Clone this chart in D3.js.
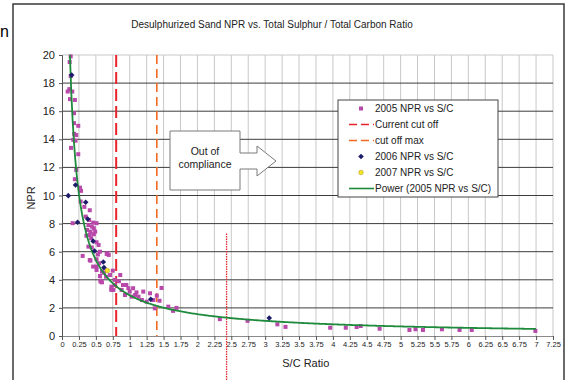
<!DOCTYPE html>
<html>
<head>
<meta charset="utf-8">
<script src="https://cdn.jsdelivr.net/npm/d3@7"></script>
<style>
  body { margin: 0; background: #fff; }
  svg { display: block; font-family: Arial, "Liberation Sans", sans-serif; }
</style>
</head>
<body>
<div id="chart"></div>
<script>
// 2005 NPR vs S/C  [S/C, NPR]
const npr2005 = [
  [0.128, 19.9], [0.113, 19.5], [0.128, 18.5], [0.108, 17.57], [0.084, 17.4], [0.152, 17.4],
  [0.118, 16.86], [0.19, 16.8], [0.177, 15.86], [0.177, 15.15], [0.24, 14.96], [0.18, 14.39],
  [0.21, 14.3], [0.2, 13.9], [0.167, 13.96], [0.133, 13.39], [0.24, 12.94], [0.21, 11.82],
  [0.19, 11.16], [0.265, 10.56], [0.28, 10.33], [0.275, 9.57], [0.33, 9.19], [0.41, 8.95],
  [0.35, 8.5], [0.40, 8.26], [0.46, 8.07], [0.158, 8.03], [0.39, 7.9], [0.44, 7.79],
  [0.37, 7.55], [0.42, 7.43], [0.47, 7.24], [0.36, 7.14], [0.43, 6.96], [0.51, 6.67],
  [0.305, 5.7], [0.42, 5.36], [0.39, 6.36], [0.41, 7.19], [0.49, 7.43], [0.51, 8.03],
  [0.47, 7.67], [0.54, 6.48], [0.56, 6.0], [0.51, 5.46], [0.55, 5.18], [0.46, 4.94],
  [0.51, 4.7], [0.59, 4.58], [0.56, 4.27], [0.57, 3.94], [0.67, 5.89], [0.75, 4.65],
  [0.71, 4.34], [0.65, 4.22], [0.73, 3.28], [0.78, 3.99], [0.78, 3.63], [0.86, 4.34],
  [0.9, 3.63], [0.88, 3.28], [0.95, 3.63], [0.98, 3.4], [0.93, 2.92], [1.0, 3.16],
  [1.05, 3.4], [1.08, 2.92], [1.03, 2.8], [1.13, 2.8], [1.18, 2.56], [1.25, 2.44],
  [1.2, 3.16], [1.3, 3.04], [1.35, 2.56], [1.37, 1.97], [1.4, 2.87], [1.44, 2.51],
  [1.47, 3.42], [1.57, 2.09], [1.64, 1.79], [1.69, 2.0], [0.41, 5.41], [0.51, 4.94],
  [0.57, 3.87], [0.73, 3.51], [0.76, 3.28], [0.69, 5.77], [0.66, 5.84], [0.59, 3.82],
  [0.73, 3.33], [0.62, 4.5], [0.53, 5.8], [0.44, 6.3], [0.84, 3.9], [1.1, 3.1],
  [2.33, 1.2], [2.74, 1.08], [3.18, 0.83], [3.3, 0.65], [3.96, 0.59], [4.19, 0.59],
  [4.35, 0.64], [4.41, 0.71], [4.69, 0.52], [5.13, 0.43], [5.22, 0.48], [5.33, 0.43],
  [5.61, 0.48], [5.87, 0.43], [6.05, 0.43], [6.99, 0.36]
];
// 2006 NPR vs S/C
const npr2006 = [
  [0.143, 18.57], [0.2, 10.75], [0.093, 9.99], [0.35, 9.52], [0.38, 8.33], [0.23, 8.1],
  [0.46, 6.75], [0.48, 6.05], [0.61, 5.27], [0.62, 4.87], [1.31, 2.61], [3.06, 1.28]
];
// 2007 NPR vs S/C
const npr2007 = [[0.67, 4.65]];

// vertical reference lines (S/C)
const currentCutOff = 0.8;
const cutOffMax = 1.4;
const markerLine = { x: 2.43, top: 7.3 };

// power trend of 2005 data: NPR = a * (S/C)^b
const trendA = 2.9;
const trendB = -0.9;
const trendEnd = 7.0;

const xTicks = d3.range(0, 7.26, 0.25);
const yTicks = d3.range(0, 21, 2);

const legendItems = [
  { label: '2005 NPR vs S/C', type: 'square' },
  { label: 'Current cut off', type: 'red' },
  { label: 'cut off max', type: 'orange' },
  { label: '2006 NPR vs S/C', type: 'diamond' },
  { label: '2007 NPR vs S/C', type: 'circle' },
  { label: 'Power (2005 NPR vs S/C)', type: 'trend' }
];

const W = 567, H = 380;
const pink = '#b848aa', navy = '#1c1c6a', green = '#1e8a3c';

const svg = d3.select('#chart').append('svg').attr('width', W).attr('height', H);

// chart border
svg.append('rect').attr('x', 13).attr('y', 4).attr('width', 551).attr('height', 400)
  .attr('fill', 'none').attr('stroke', '#3a3a3a').attr('stroke-width', 1.5);

// stray text at the left edge
svg.append('text').attr('x', 0).attr('y', 37).attr('font-size', 16).attr('fill', '#000').text('n');

const x = d3.scaleLinear().domain([0, 7.25]).range([62, 553]);
const y = d3.scaleLinear().domain([0, 20]).range([336, 55]);

// title
svg.append('text').attr('x', 272).attr('y', 28).attr('text-anchor', 'middle')
  .attr('font-size', 10).attr('fill', '#222')
  .text('Desulphurized Sand NPR vs. Total Sulphur / Total Carbon Ratio');

// vertical grid
svg.append('g').selectAll('line').data(xTicks.slice(1)).enter().append('line')
  .attr('x1', d => x(d)).attr('x2', d => x(d))
  .attr('y1', y(20)).attr('y2', y(0))
  .attr('stroke', '#c8c8c8').attr('stroke-width', 1);

// horizontal grid
svg.append('g').selectAll('line').data(yTicks.slice(1)).enter().append('line')
  .attr('x1', x(0)).attr('x2', x(7.25))
  .attr('y1', d => y(d)).attr('y2', d => y(d))
  .attr('stroke', d => d === 20 ? '#c8c8c8' : '#3c3c3c').attr('stroke-width', 1);

// axes
const xAxis = svg.append('g').attr('transform', `translate(0,${y(0)})`)
  .call(d3.axisBottom(x).tickValues(xTicks).tickSize(4).tickFormat(d => String(d)));
xAxis.select('.domain').attr('stroke', '#8a8a8a');
xAxis.selectAll('.tick line').attr('stroke', '#555');
xAxis.selectAll('text').attr('font-size', 7.5).attr('fill', '#222').attr('dy', '0.55em')
  .attr('font-family', 'Arial, "Liberation Sans", sans-serif');

const yAxis = svg.append('g').attr('transform', `translate(${x(0)},0)`)
  .call(d3.axisLeft(y).tickValues(yTicks).tickSize(3).tickFormat(d3.format('d')));
yAxis.select('.domain').attr('stroke', '#555');
yAxis.selectAll('.tick line').attr('stroke', '#555');
yAxis.selectAll('text').attr('font-size', 11).attr('fill', '#222').attr('x', -7)
  .attr('font-family', 'Arial, "Liberation Sans", sans-serif');

// axis titles
svg.append('text').attr('transform', `translate(35,198) rotate(-90)`)
  .attr('text-anchor', 'middle').attr('font-size', 11).attr('fill', '#222').text('NPR');
svg.append('text').attr('x', x(3.6)).attr('y', 367).attr('text-anchor', 'middle')
  .attr('font-size', 11).attr('fill', '#222').text('S/C Ratio');

// out-of-compliance arrow callout
svg.append('path')
  .attr('d', 'M170,131 H240 V153 H257 V146 L276,161 L257,176 V169 H240 V190 H170 Z')
  .attr('fill', '#fff').attr('stroke', '#7a7a7a').attr('stroke-width', 1);
svg.append('text').attr('x', 205).attr('y', 155).attr('text-anchor', 'middle')
  .attr('font-size', 10.5).attr('fill', '#222').text('Out of');
svg.append('text').attr('x', 205).attr('y', 168).attr('text-anchor', 'middle')
  .attr('font-size', 10.5).attr('fill', '#222').text('compliance');

// cut-off lines
svg.append('line').attr('x1', x(currentCutOff)).attr('x2', x(currentCutOff))
  .attr('y1', y(20)).attr('y2', y(0))
  .attr('stroke', '#e8232a').attr('stroke-width', 2).attr('stroke-dasharray', '12,5');
svg.append('line').attr('x1', x(cutOffMax)).attr('x2', x(cutOffMax))
  .attr('y1', y(20)).attr('y2', y(0))
  .attr('stroke', '#f26a22').attr('stroke-width', 1.6).attr('stroke-dasharray', '9,5');
svg.append('line').attr('x1', x(markerLine.x)).attr('x2', x(markerLine.x))
  .attr('y1', y(markerLine.top)).attr('y2', H)
  .attr('stroke', '#e8232a').attr('stroke-width', 1.3).attr('stroke-dasharray', '1.5,1');

// 2005 squares
svg.append('g').selectAll('rect').data(npr2005).enter().append('rect')
  .attr('x', d => x(d[0]) - 2).attr('y', d => y(d[1]) - 2)
  .attr('width', 4).attr('height', 4).attr('fill', pink);

// power trend line
const xStart = Math.pow(20 / trendA, 1 / trendB);
const trendPts = d3.range(xStart, trendEnd, 0.02).concat([trendEnd]).map(v => [v, trendA * Math.pow(v, trendB)]);
svg.append('path').datum(trendPts)
  .attr('d', d3.line().x(d => x(d[0])).y(d => y(d[1])))
  .attr('fill', 'none').attr('stroke', green).attr('stroke-width', 1.8);

// 2006 diamonds
const diamond = d3.symbol().type(d3.symbolDiamond2).size(20);
svg.append('g').selectAll('path').data(npr2006).enter().append('path')
  .attr('d', diamond).attr('transform', d => `translate(${x(d[0])},${y(d[1])})`)
  .attr('fill', navy);

// 2007 circles
svg.append('g').selectAll('circle').data(npr2007).enter().append('circle')
  .attr('cx', d => x(d[0])).attr('cy', d => y(d[1])).attr('r', 2.3)
  .attr('fill', '#f3e61e').attr('stroke', '#b0a030').attr('stroke-width', 0.6);

// legend
const lg = svg.append('g');
lg.append('rect').attr('x', 338).attr('y', 100).attr('width', 160).attr('height', 97)
  .attr('fill', '#fff').attr('stroke', '#444').attr('stroke-width', 1);
legendItems.forEach((it, i) => {
  const cy = 108.5 + i * 16;
  const row = lg.append('g');
  if (it.type === 'square') {
    row.append('rect').attr('x', 359).attr('y', cy - 2).attr('width', 4).attr('height', 4).attr('fill', pink);
  } else if (it.type === 'red') {
    row.append('line').attr('x1', 349).attr('x2', 374).attr('y1', cy).attr('y2', cy)
      .attr('stroke', '#e8232a').attr('stroke-width', 1.6).attr('stroke-dasharray', '8,4');
  } else if (it.type === 'orange') {
    row.append('line').attr('x1', 349).attr('x2', 374).attr('y1', cy).attr('y2', cy)
      .attr('stroke', '#f26a22').attr('stroke-width', 1.6).attr('stroke-dasharray', '8,4');
  } else if (it.type === 'diamond') {
    row.append('path').attr('d', diamond).attr('transform', `translate(361,${cy})`).attr('fill', navy);
  } else if (it.type === 'circle') {
    row.append('circle').attr('cx', 361).attr('cy', cy).attr('r', 2.3)
      .attr('fill', '#f3e61e').attr('stroke', '#b0a030').attr('stroke-width', 0.6);
  } else {
    row.append('line').attr('x1', 349).attr('x2', 374).attr('y1', cy).attr('y2', cy)
      .attr('stroke', green).attr('stroke-width', 1.6);
  }
  row.append('text').attr('x', 375).attr('y', cy + 3.5).attr('font-size', 10)
    .attr('fill', '#222').text(it.label);
});
</script>
</body>
</html>
